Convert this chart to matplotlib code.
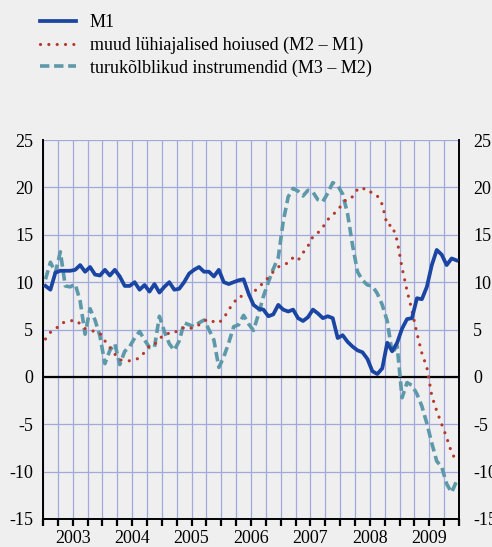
import numpy as np
import matplotlib
matplotlib.use("Agg")
import matplotlib.pyplot as plt
import matplotlib.transforms as mtransforms

# kuised andmed 2003-01 ... 2009-12, aastane kasv %
m1 = [9.6, 9.2, 11.0, 11.2, 11.2, 11.2, 11.3, 11.8, 11.1, 11.6, 10.8, 10.7,
      11.3, 10.7, 11.3, 10.6, 9.6, 9.6, 10.0, 9.2, 9.7, 9.0, 9.8, 8.9,
      9.5, 10.0, 9.2, 9.3, 10.0, 10.9, 11.3, 11.6, 11.1, 11.1, 10.6, 11.3,
      10.0, 9.8, 10.0, 10.2, 10.3, 8.8, 7.6, 7.2, 7.1, 6.4, 6.6, 7.6,
      7.1, 6.9, 7.1, 6.2, 5.9, 6.3, 7.1, 6.7, 6.2, 6.4, 6.2, 4.1,
      4.4, 3.7, 3.2, 2.8, 2.6, 1.9, 0.6, 0.3, 0.9, 3.6, 2.7, 3.6,
      5.1, 6.1, 6.2, 8.3, 8.2, 9.5, 11.8, 13.4, 12.9, 11.8, 12.5, 12.3]

m2m1 = [4.0, 4.7, 5.0, 5.6, 5.8, 5.9, 6.0, 5.6, 5.1, 4.9, 4.8, 4.6,
        3.8, 3.1, 2.4, 1.8, 1.7, 1.7, 1.8, 2.0, 2.6, 3.3, 3.4, 4.0,
        4.5, 4.6, 4.6, 5.1, 5.2, 5.1, 5.2, 5.5, 5.9, 6.1, 5.8, 5.7,
        6.2, 7.1, 7.8, 8.5, 8.5, 8.5, 8.9, 9.5, 9.9, 10.5, 11.1, 11.6,
        11.9, 12.0, 12.6, 12.3, 13.1, 13.8, 14.8, 15.2, 15.8, 16.6, 17.1, 17.6,
        18.3, 18.9, 19.0, 19.8, 20.0, 19.5, 19.5, 19.1, 18.2, 16.0, 16.0, 14.4,
        11.5, 9.1, 7.0, 4.6, 2.5, 1.0, -2.0, -3.6, -5.0, -6.4, -8.0, -8.9]

m3m2 = [10.3, 12.1, 11.0, 13.2, 9.6, 9.5, 9.8, 8.0, 4.5, 7.2, 6.0, 4.3,
        1.4, 2.8, 3.5, 1.3, 2.7, 3.2, 4.1, 4.8, 3.9, 3.1, 3.1, 6.4,
        4.8, 3.5, 2.8, 3.8, 5.7, 5.5, 5.3, 5.7, 6.0, 5.0, 3.9, 1.0,
        2.1, 3.6, 5.3, 5.5, 6.5, 5.6, 4.9, 6.6, 8.5, 10.0, 11.4, 12.6,
        16.4, 19.0, 19.9, 19.6, 19.1, 19.7, 19.5, 18.7, 18.5, 19.4, 20.5, 20.2,
        19.3, 17.2, 13.9, 11.1, 10.2, 9.7, 9.6, 8.8, 7.6, 5.9, 2.5, 3.3,
        -2.2, -0.6, -0.9, -1.8, -3.1, -4.9, -7.0, -8.9, -9.5, -11.3, -12.2, -11.0]

years = [2003, 2004, 2005, 2006, 2007, 2008, 2009]
labels = ["M1", "muud lühiajalised hoiused (M2 – M1)",
          "turukõlblikud instrumendid (M3 – M2)"]

bg = "#efefef"
grid = "#a0a8dc"
plt.rcParams["font.family"] = ["Liberation Serif", "DejaVu Serif"]
plt.rcParams["font.size"] = 13
plt.rcParams["axes.unicode_minus"] = False

x = 2003 + (np.arange(len(m1)) + 0.5) / 12

fig = plt.figure(figsize=(4.92, 5.47), dpi=100, facecolor=bg)
ax = fig.add_axes([0.0874, 0.0512, 0.8456, 0.6928], facecolor=bg)

ax.plot(x, m1, color="#1a45a3", lw=2.7, solid_joinstyle="round", label=labels[0], zorder=5)
ax.plot(x, m2m1, color="#b5392d", lw=2.3, linestyle=(0, (0.01, 2.6)),
        dash_capstyle="round", label=labels[1], zorder=4)
ax.plot(x, m3m2, color="#5d99aa", lw=2.6, linestyle=(0, (2.6, 1.3)),
        label=labels[2], zorder=3)

ax.set_xlim(2003, 2010)
ax.set_ylim(-15, 25)
ax.set_yticks(np.arange(-15, 26, 5))
ax.set_xticks(np.arange(2003, 2010.01, 0.25))
ax.set_xticklabels([])
ax.tick_params(axis="x", direction="out", length=5, width=1.6, color="black")
ax.tick_params(axis="y", length=0, pad=7)
ax.grid(True, color=grid, lw=0.9)
ax.set_axisbelow(True)

# parempoolne skaala veidi kaugemal
ax2 = ax.twinx()
ax2.set_ylim(-15, 25)
ax2.set_yticks(np.arange(-15, 26, 5))
ax2.tick_params(axis="y", length=0, pad=10)
for s in ax2.spines.values():
    s.set_visible(False)

# aastad kvartalite vahele
trans = mtransforms.blended_transform_factory(ax.transData, ax.transAxes)
for y in years:
    ax.text(y + 0.5, -0.028, str(y), transform=trans, ha="center", va="top")

for s in ["left", "right", "bottom"]:
    ax.spines[s].set_color("black")
    ax.spines[s].set_linewidth(1.4)
ax.spines["top"].set_visible(False)

ax.axhline(0, color="black", lw=1.6, zorder=2)

fig.legend(loc="upper left", bbox_to_anchor=(0.081, 0.974), frameon=False,
           handlelength=2.0, handletextpad=0.75, labelspacing=0.3,
           borderpad=0, borderaxespad=0)

fig.savefig("out.png", dpi=100, facecolor=bg)
